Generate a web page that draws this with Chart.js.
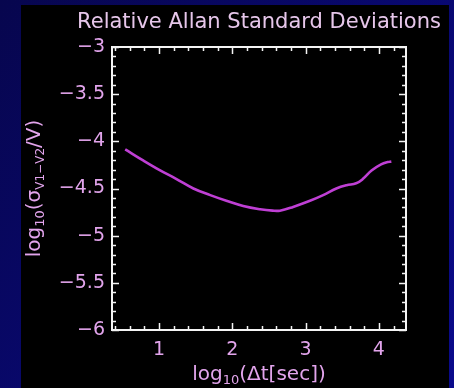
<!DOCTYPE html>
<html>
<head>
<meta charset="utf-8">
<script src="https://cdn.jsdelivr.net/npm/chart.js@4"></script>
<style>
  body { margin: 0; background: #06065a; }
  canvas { display: block; }
</style>
</head>
<body>
<canvas id="myChart" width="454" height="388"></canvas>
<script>
// data
const logDt = [0.54, 0.79, 1.01, 1.24, 1.47, 1.70, 1.92, 2.15, 2.38, 2.55, 2.65, 2.83, 3.06, 3.24, 3.42, 3.56, 3.69, 3.78, 3.90, 4.03, 4.12, 4.17];
const logSigma = [-4.085, -4.205, -4.305, -4.40, -4.50, -4.57, -4.63, -4.685, -4.72, -4.735, -4.735, -4.695, -4.63, -4.57, -4.50, -4.465, -4.445, -4.40, -4.31, -4.245, -4.22, -4.215];
const xTicks = [1, 2, 3, 4];
const yTicks = [-6, -5.5, -5, -4.5, -4, -3.5, -3];

const pink = "#e2a4ec";
const titlePink = "#e6c6ea";
const fontFam = "'DejaVu Sans', sans-serif";

// draws the panel, box, inward ticks and the titles
const idlLook = {
  id: "idlLook",
  beforeDraw(chart) {
    const c = chart.ctx;
    const g = c.createLinearGradient(0, 0, 454, 388);
    g.addColorStop(0, "#07064e");
    g.addColorStop(1, "#0a0a8c");
    c.save();
    c.fillStyle = g;
    c.fillRect(0, 0, chart.width, chart.height);
    c.fillStyle = "#000";
    c.fillRect(21, 5, 428, 383);
    c.restore();
  },
  afterDraw(chart) {
    const c = chart.ctx;
    const a = chart.chartArea;
    const xs = chart.scales.x, ys = chart.scales.y;
    c.save();
    c.strokeStyle = "#f4f4f4";
    c.lineWidth = 2;
    c.strokeRect(a.left, a.top, a.right - a.left, a.bottom - a.top);
    c.lineWidth = 1.5;
    c.beginPath();
    // x ticks, minor every 0.2
    for (let v = 0.4; v <= xs.max + 1e-6; v += 0.2) {
      const px = Math.round(xs.getPixelForValue(v)) + 0.5;
      const major = Math.abs(v - Math.round(v)) < 1e-6;
      const len = major ? 7 : 4;
      c.moveTo(px, a.bottom); c.lineTo(px, a.bottom - len);
      c.moveTo(px, a.top); c.lineTo(px, a.top + len);
    }
    // y ticks, minor every 0.1
    for (let i = -60; i <= -30; i++) {
      const v = i / 10;
      const py = Math.round(ys.getPixelForValue(v)) + 0.5;
      const len = (i % 5 === 0) ? 7 : 4;
      c.moveTo(a.left, py); c.lineTo(a.left + len, py);
      c.moveTo(a.right, py); c.lineTo(a.right - len, py);
    }
    c.stroke();

    // title
    c.fillStyle = titlePink;
    c.font = "21px " + fontFam;
    c.textAlign = "center";
    c.textBaseline = "alphabetic";
    c.fillText("Relative Allan Standard Deviations", (a.left + a.right) / 2, 28);

    // x title
    c.fillStyle = pink;
    drawParts(c, (a.left + a.right) / 2, 380, [
      ["log", 20, 0], ["10", 13, 4], ["(\u0394t[sec])", 20, 0]
    ]);
    // y title, rotated
    c.translate(40, (a.top + a.bottom) / 2);
    c.rotate(-Math.PI / 2);
    drawParts(c, 0, 0, [
      ["log", 20, 0], ["10", 13, 4], ["(\u03c3", 20, 0], ["V1\u2212V2", 12, 4], ["/V)", 20, 0]
    ]);
    c.restore();
  }
};

function drawParts(c, cx, y, parts) {
  let total = 0;
  parts.forEach(p => { c.font = p[1] + "px " + fontFam; total += c.measureText(p[0]).width; });
  let x = cx - total / 2;
  c.textAlign = "left";
  parts.forEach(p => {
    c.font = p[1] + "px " + fontFam;
    c.fillText(p[0], x, y + p[2]);
    x += c.measureText(p[0]).width;
  });
}

const fmt = v => String(v).replace("-", "\u2212");

let ctx = document.getElementById("myChart");
let myChart = new Chart(ctx, {
  type: "line",
  data: {
    datasets: [{
      data: logDt.map((x, i) => ({ x: x, y: logSigma[i] })),
      borderColor: "#bf3fd4",
      borderWidth: 2.6,
      pointRadius: 0,
      tension: 0.4,
      fill: false
    }]
  },
  options: {
    responsive: false,
    animation: false,
    layout: { padding: { left: 0, top: 47, right: 48, bottom: 0 } },
    plugins: { legend: { display: false }, tooltip: { enabled: false } },
    scales: {
      x: {
        type: "linear",
        min: 0.36,
        max: 4.37,
        afterBuildTicks: s => { s.ticks = xTicks.map(v => ({ value: v })); },
        afterFit: s => { s.height = 58; },
        grid: { display: false, drawTicks: false },
        border: { display: false },
        ticks: { color: pink, font: { family: fontFam, size: 19 }, padding: 9, callback: fmt, maxRotation: 0 }
      },
      y: {
        type: "linear",
        min: -6,
        max: -3,
        afterBuildTicks: s => { s.ticks = yTicks.map(v => ({ value: v })); },
        afterFit: s => { s.width = 112; },
        grid: { display: false, drawTicks: false },
        border: { display: false },
        ticks: { color: pink, font: { family: fontFam, size: 19 }, padding: 7, callback: fmt }
      }
    }
  },
  plugins: [idlLook]
});
</script>
</body>
</html>
